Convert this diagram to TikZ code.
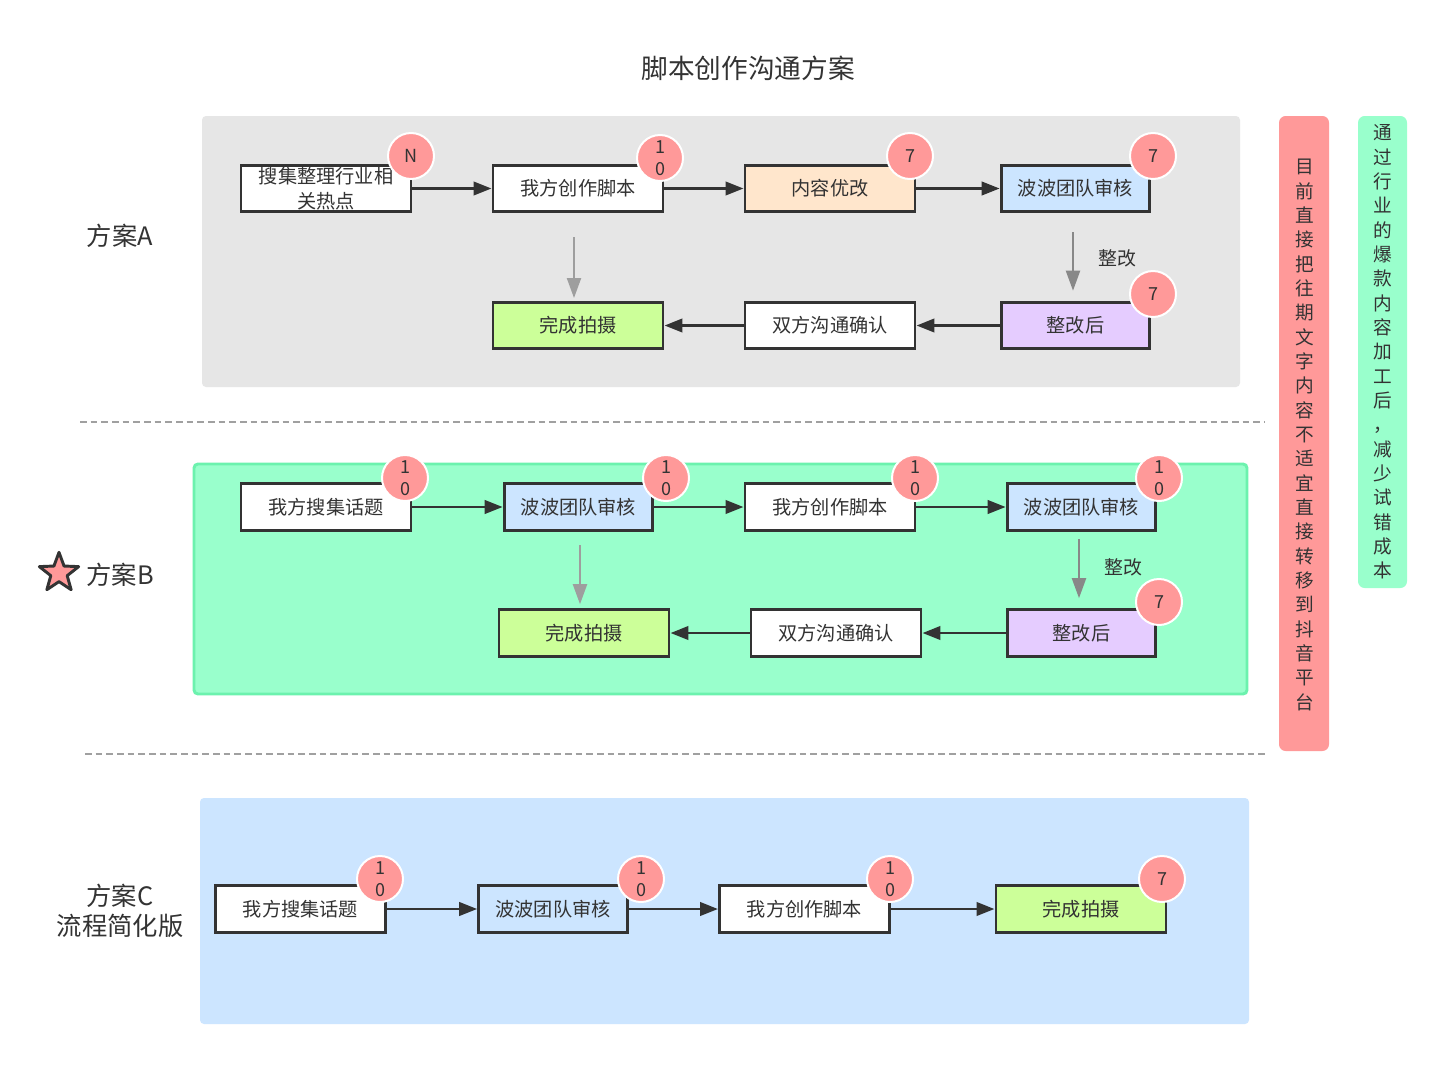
\documentclass[tikz,border=0pt]{standalone}
\usepackage{fontspec}
\setmainfont{Noto Sans CJK SC}
\usetikzlibrary{arrows.meta,shapes.geometric}
\definecolor{ink}{HTML}{333333}
\definecolor{panelA}{HTML}{E6E6E6}
\definecolor{panelB}{HTML}{99FFCC}
\definecolor{panelBline}{HTML}{6CF2AE}
\definecolor{panelC}{HTML}{CCE5FF}
\definecolor{badgered}{HTML}{FF9999}
\definecolor{boxorange}{HTML}{FFE6CC}
\definecolor{boxblue}{HTML}{CCE5FF}
\definecolor{boxgreen}{HTML}{CCFF99}
\definecolor{boxpurple}{HTML}{E5CCFF}
\definecolor{dashgray}{HTML}{A0A0A0}
\definecolor{arrgrayA}{HTML}{9E9E9E}
\definecolor{arrgrayB}{HTML}{888888}
\tikzset{
  box/.style={rectangle, draw=ink, line width=2.2pt, fill=white, text=ink,
    minimum height=35pt, inner sep=0pt, align=center,
    font=\fontsize{14.4pt}{18.5pt}\selectfont},
  wide/.style={minimum width=127.5pt},
  narrow/.style={minimum width=111.5pt},
  badge/.style={circle, fill=badgered, draw=white, line width=1.5pt,
    minimum size=34.5pt, inner sep=0pt, text=ink, align=center,
    font=\fontsize{13.5pt}{16.5pt}\selectfont},
  flow/.style={draw=ink, line width=2.2pt, -{Triangle[length=13.5pt,width=10pt]}},
  backflow/.style={draw=arrgrayA, line width=1.6pt, -{Triangle[length=15pt,width=10.5pt]}},
  panel/.style={rounded corners=3pt},
  sect/.style={text=ink, align=center, font=\fontsize{19pt}{23pt}\selectfont},
  vtext/.style={text=ink, align=center, font=\fontsize{14pt}{18.25pt}\selectfont},
  note/.style={text=ink, font=\fontsize{14.2pt}{18pt}\selectfont},
  sepline/.style={draw=dashgray, line width=1.1pt, dash pattern=on 5pt off 3pt}
}
\begin{document}
\begin{tikzpicture}[x=0.75pt,y=-0.75pt]
\fill[white] (0,0) rectangle (1446,1064);
\useasboundingbox (0,0) rectangle (1446,1064);

% title
\node[text=ink, font=\fontsize{20pt}{24pt}\selectfont] (title) at (748,68) {脚本创作沟通方案};

% panels
\fill[panelA, panel] (202,116) rectangle (1240,387);
\filldraw[fill=panelB, draw=panelBline, line width=2.2pt, panel] (194,464) rectangle (1247,694);
\fill[panelC, panel] (200,798) rectangle (1249,1024);

% separators
\draw[sepline] (80,422) -- (1265,422);
\draw[sepline] (85,754) -- (1268,754);

% side notes
\fill[badgered, rounded corners=5pt] (1279,116) rectangle (1329,751);
\node[vtext] (noteR) at (1305,435) {目\\前\\直\\接\\把\\往\\期\\文\\字\\内\\容\\不\\适\\宜\\直\\接\\转\\移\\到\\抖\\音\\平\\台};
\fill[panelB, rounded corners=5pt] (1358,116) rectangle (1407,588);
\node[vtext] (noteG) at (1383,352) {通\\过\\行\\业\\的\\爆\\款\\内\\容\\加\\工\\后\\，\\减\\少\\试\\错\\成\\本};

% section labels
\node[sect] (labA) at (120,236) {方案A};
\node[sect] (labB) at (120,575) {方案B};
\node[star, star points=5, star point ratio=2.4, minimum size=31pt, inner sep=0pt,
  fill=badgered, draw=ink, line width=2.2pt, line join=round] (starB) at (59,573) {};
\node[sect] (labC) at (120,911) {方案C\\流程简化版};

% ---- Section A ----
\node[box, wide] (A1) at (326,188.5) {搜集整理行业相\\关热点};
\node[box, wide] (A2) at (578,188.5) {我方创作脚本};
\node[box, wide, fill=boxorange] (A3) at (830,188.5) {内容优改};
\node[box, narrow, fill=boxblue] (A4) at (1075.5,188.5) {波波团队审核};
\node[box, wide, fill=boxgreen] (A5) at (578,325.5) {完成拍摄};
\node[box, wide] (A6) at (830,325.5) {双方沟通确认};
\node[box, narrow, fill=boxpurple] (A7) at (1075.5,325.5) {整改后};

\draw[flow] (A1) -- (A2);
\draw[flow] (A2) -- (A3);
\draw[flow] (A3) -- (A4);
\draw[flow] (A7) -- (A6);
\draw[flow] (A6) -- (A5);

\coordinate (gA1) at (574,237);
\coordinate (gA2) at (1073,232);
\draw[backflow, shorten >=2pt] (gA1) -- (A5.north -| gA1);
\draw[backflow, draw=arrgrayB, shorten >=7.5pt] (gA2) -- (A7.north -| gA2);
\node[note] (fixA) at (1117,258) {整改};

\node[badge] (bA1) at (411,156) {N};
\node[badge] (bA2) at (660,158) {1\\0};
\node[badge] (bA3) at (910,156) {7};
\node[badge] (bA4) at (1153,156) {7};
\node[badge] (bA7) at (1153,294) {7};

% ---- Section B ----
\node[box, wide] (B1) at (326,507) {我方搜集话题};
\node[box, narrow, fill=boxblue] (B2) at (578.5,507) {波波团队审核};
\node[box, wide] (B3) at (830,507) {我方创作脚本};
\node[box, narrow, fill=boxblue] (B4) at (1081.5,507) {波波团队审核};
\node[box, wide, fill=boxgreen] (B5) at (584,633) {完成拍摄};
\node[box, wide] (B6) at (836,633) {双方沟通确认};
\node[box, narrow, fill=boxpurple] (B7) at (1081.5,633) {整改后};

\draw[flow] (B1) -- (B2);
\draw[flow] (B2) -- (B3);
\draw[flow] (B3) -- (B4);
\draw[flow] (B7) -- (B6);
\draw[flow] (B6) -- (B5);

\coordinate (gB1) at (580,545);
\coordinate (gB2) at (1079,539);
\draw[backflow, shorten >=3pt] (gB1) -- (B5.north -| gB1);
\draw[backflow, draw=arrgrayB, shorten >=7.5pt] (gB2) -- (B7.north -| gB2);
\node[note] (fixB) at (1123,567) {整改};

\node[badge] (bB1) at (405,478) {1\\0};
\node[badge] (bB2) at (666,478) {1\\0};
\node[badge] (bB3) at (915,478) {1\\0};
\node[badge] (bB4) at (1159,478) {1\\0};
\node[badge] (bB7) at (1159,602) {7};

% ---- Section C ----
\node[box, wide] (C1) at (300.5,909) {我方搜集话题};
\node[box, narrow, fill=boxblue] (C2) at (553,909) {波波团队审核};
\node[box, wide] (C3) at (804.5,909) {我方创作脚本};
\node[box, wide, fill=boxgreen] (C4) at (1081,909) {完成拍摄};

\draw[flow] (C1) -- (C2);
\draw[flow] (C2) -- (C3);
\draw[flow] (C3) -- (C4);

\node[badge] (bC1) at (380,879) {1\\0};
\node[badge] (bC2) at (641,879) {1\\0};
\node[badge] (bC3) at (890,879) {1\\0};
\node[badge] (bC4) at (1162,879) {7};
\end{tikzpicture}
\end{document}
